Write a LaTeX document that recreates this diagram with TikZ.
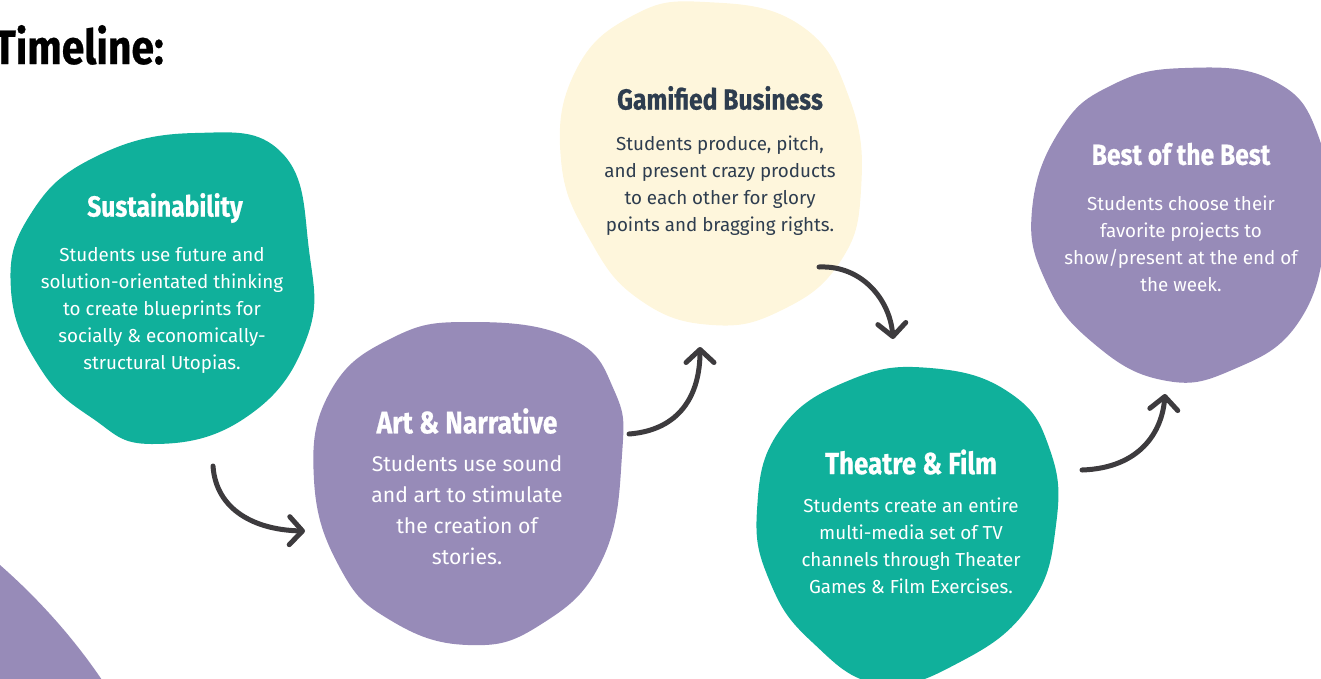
\documentclass[tikz,border=0pt]{standalone}
\usepackage{fontspec}
\setmainfont{Fira Sans}
\newfontfamily\headfont{Fira Sans}[UprightFont=* Bold, FakeStretch=0.85, FakeBold=0.6]
\usetikzlibrary{arrows.meta}
\definecolor{teal}{HTML}{10B09B}
\definecolor{lav}{HTML}{978BB8}
\definecolor{cream}{HTML}{FEF6DC}
\definecolor{ink}{HTML}{2E3D4F}
\definecolor{arr}{HTML}{3D3B3E}
\tikzset{
  blob/.style={draw=none, fill=#1},
  head/.style={font=\headfont\fontsize{29}{32}\selectfont, align=center, text=#1},
  body/.style={font=\fontsize{18.8}{27}\selectfont, align=center, text=#1},
  flow/.style={draw=arr, line width=5pt, line cap=round, line join=round,
    -{Straight Barb[length=13pt,width=28pt,line cap=round,line join=round]}}
}
\begin{document}
\begin{tikzpicture}[x=1pt,y=-1pt]
\useasboundingbox (0,0) rectangle (1321,678);
\clip (0,0) rectangle (1321,678);
% blobs
\fill[lav] plot[smooth cycle, tension=0.75] coordinates {(470,322) (570,338) (614,390) (622,455) (602,560) (540,625) (468,645) (390,620) (340,568) (314,480) (330,392) (392,338)};
\fill[teal] plot[smooth cycle, tension=0.75] coordinates {(195,133) (282,153) (309,250) (306,340) (245,418) (152,444) (92,418) (40,368) (11,290) (30,215) (95,157)};
\fill[cream] plot[smooth cycle, tension=0.75] coordinates {(705,2) (800,25) (850,100) (861,190) (840,262) (782,310) (712,325) (640,300) (590,240) (561,160) (575,72) (632,16)};
\fill[teal] plot[smooth cycle, tension=0.75] coordinates {(930,368) (1010,393) (1050,450) (1056,525) (1030,605) (960,662) (880,684) (812,642) (770,582) (757,510) (780,430) (850,380)};
\fill[lav] plot[smooth cycle, tension=0.75] coordinates {(1185,68) (1272,80) (1318,135) (1326,225) (1300,320) (1232,370) (1162,380) (1092,342) (1046,282) (1032,210) (1060,130) (1112,85)};
\fill[lav] (0,565) .. controls (40,600) and (75,640) .. (102,680) -- (0,680) -- cycle;
% title
\node[anchor=base east, inner sep=0, font=\headfont\fontsize{48}{52}\selectfont] (title) at (164,64) {Timeline:};
% Sustainability
\node[head=white] (h1) at (165,208) {Sustainability};
\node[body=white, anchor=north] (b1) at (162,244) {Students use future and\\solution-orientated thinking\\to create blueprints for\\socially \& economically-\\structural Utopias.};
% Art & Narrative
\node[head=white, font=\headfont\fontsize{31}{34}\selectfont] (h2) at (467,421) {Art \& Narrative};
\node[body=white, font=\fontsize{21.2}{31}\selectfont, anchor=north] (b2) at (467,452) {Students use sound\\and art to stimulate\\the creation of\\stories.};
% Gamified
\node[head=ink] (h3) at (720,98) {Gamified Business};
\node[body=ink, anchor=north] (b3) at (720,132) {Students produce, pitch,\\and present crazy products\\to each other for glory\\points and bragging rights.};
% Theatre
\node[head=white, font=\headfont\fontsize{30.5}{34}\selectfont] (h4) at (911,462) {Theatre \& Film};
\node[body=white, anchor=north] (b4) at (911,494) {Students create an entire\\multi-media set of TV\\channels through Theater\\Games \& Film Exercises.};
% Best
\node[head=white] (h5) at (1181,154) {Best of the Best};
\node[body=white, anchor=north] (b5) at (1181,192) {Students choose their\\favorite projects to\\show/present at the end of\\the week.};
% arrows
\coordinate (a1s) at (213,466); \coordinate (a1e) at (305,531);
\coordinate (a2s) at (629,434); \coordinate (a2e) at (700,347);
\coordinate (a3s) at (819,267); \coordinate (a3e) at (893,339);
\coordinate (a4s) at (1082,470); \coordinate (a4e) at (1165,394);
\draw[flow] (a1s) .. controls (216,510) and (255,530) .. (a1e);
\draw[flow] (a2s) .. controls (680,430) and (700,395) .. (a2e);
\draw[flow] (a3s) .. controls (862,265) and (890,300) .. (a3e);
\draw[flow] (a4s) .. controls (1140,468) and (1162,432) .. (a4e);
\end{tikzpicture}
\end{document}
